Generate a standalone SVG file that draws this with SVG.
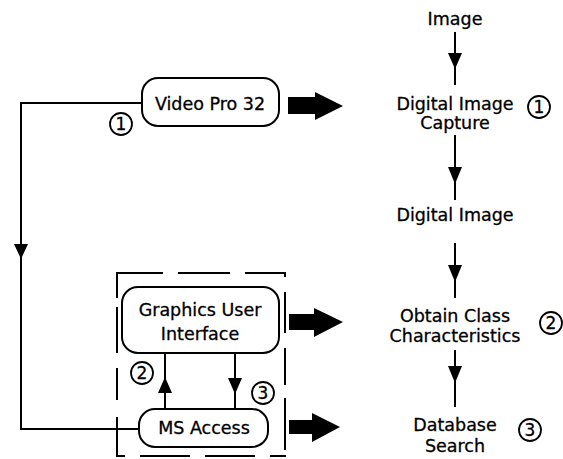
<svg xmlns="http://www.w3.org/2000/svg" width="563" height="459" viewBox="0 0 563 459">
<style>
text{font-family:"DejaVu Sans","Liberation Sans",sans-serif;font-size:17.5px;fill:#000;stroke:#000;stroke-width:0.3;text-anchor:middle}
.box{fill:#fff;stroke:#000;stroke-width:2}
.ln{fill:none;stroke:#000;stroke-width:2}
.num{fill:#fff;stroke:#000;stroke-width:1.8}
.numt{font-size:17px}
.big{fill:#000}
.ah{fill:#000}
</style>
<rect width="563" height="459" fill="#fff"/>
<g id="connectors">
  <polyline class="ln" points="142,103 21,103 21,429 139,429"/>
  <polygon class="ah" points="14,244 28,244 21,259"/>
  <line class="ln" x1="455" y1="32" x2="455" y2="85"/>
  <polygon class="ah" points="448,53 462,53 455,69"/>
  <line class="ln" x1="455" y1="135" x2="455" y2="200"/>
  <polygon class="ah" points="448,167 462,167 455,184"/>
  <line class="ln" x1="455" y1="243" x2="455" y2="298"/>
  <polygon class="ah" points="448,265 462,265 455,282"/>
  <line class="ln" x1="455" y1="350" x2="455" y2="407"/>
  <polygon class="ah" points="448,366 462,366 455,383"/>
  <line class="ln" x1="165" y1="353" x2="165" y2="409"/>
  <polygon class="ah" points="158,393 172,393 165,377"/>
  <line class="ln" x1="235" y1="353" x2="235" y2="409"/>
  <polygon class="ah" points="228,378 242,378 235,394"/>
  <polygon class="big" points="288,97 315,97 315,92 343,106 315,120 315,114 288,114"/>
  <polygon class="big" points="289,314 314,314 314,308 343,322 314,337 314,330 289,330"/>
  <polygon class="big" points="289,420 312,420 312,413 340,427 312,442 312,434 289,434"/>
</g>
<g id="group-box">
  <path class="ln" d="M117,298 V273 H163 M178,273 H230 M245,273 H285 V277 M285,292 V333 M285,348 V385 M285,398 V450 M285,455 V456 H270 M255,456 H205 M190,456 H140 M125,456 H117 V417 M117,400 V368 M117,353 V307"/>
</g>
<g id="video-pro">
  <rect class="box" x="142" y="78" width="137" height="48" rx="16"/>
  <text x="210" y="110">Video Pro 32</text>
</g>
<g id="gui">
  <rect class="box" x="122" y="287" width="157" height="66" rx="16"/>
  <text x="200" y="316">Graphics User</text>
  <text x="200" y="340">Interface</text>
</g>
<g id="ms-access">
  <rect class="box" x="139" y="409" width="129" height="38" rx="16"/>
  <text x="204" y="434">MS Access</text>
</g>
<g id="image"><text x="455" y="25">Image</text></g>
<g id="capture">
  <text x="455" y="110">Digital Image</text>
  <text x="455" y="129">Capture</text>
</g>
<g id="digital-image"><text x="455" y="221">Digital Image</text></g>
<g id="obtain">
  <text x="455" y="322">Obtain Class</text>
  <text x="455" y="342">Characteristics</text>
</g>
<g id="search">
  <text x="455" y="431">Database</text>
  <text x="455" y="452">Search</text>
</g>
<g id="markers">
  <circle class="num" cx="121" cy="124" r="11"/><text class="numt" x="121" y="130">1</text>
  <circle class="num" cx="539" cy="107" r="11"/><text class="numt" x="539" y="113">1</text>
  <circle class="num" cx="142" cy="373" r="11"/><text class="numt" x="142" y="379">2</text>
  <circle class="num" cx="263" cy="393" r="11"/><text class="numt" x="263" y="399">3</text>
  <circle class="num" cx="551" cy="323" r="11"/><text class="numt" x="551" y="329">2</text>
  <circle class="num" cx="530" cy="430" r="11"/><text class="numt" x="530" y="436">3</text>
</g>
</svg>
